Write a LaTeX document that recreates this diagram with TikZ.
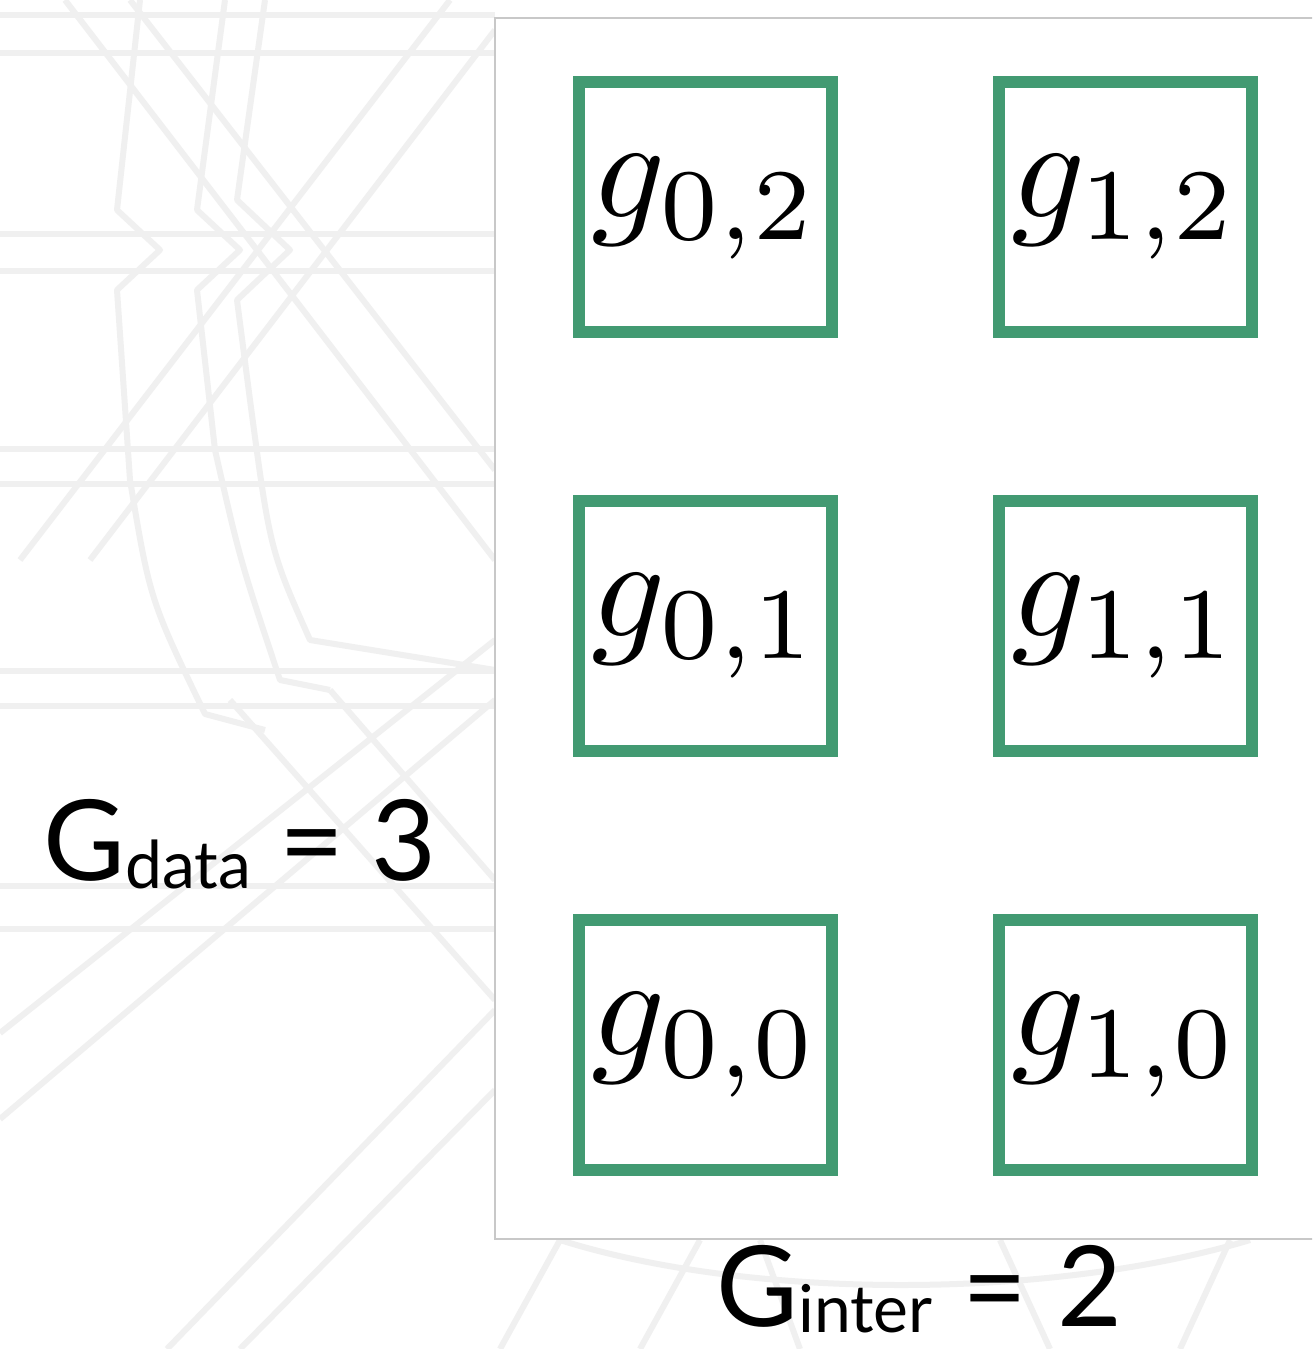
\documentclass[tikz,border=0pt]{standalone}
\usepackage{graphicx}
\usepackage[no-math]{fontspec}
\newfontfamily\labelfont{Lato}
\definecolor{boxgreen}{RGB}{66,154,114}
\definecolor{bgline}{RGB}{240,240,240}
\definecolor{panelline}{RGB}{200,200,200}
\newcommand{\bigmath}[1]{\scalebox{7.25}{$#1$}}
\newcommand{\subtxt}[2][4pt]{\raisebox{-#1}{\fontsize{33}{40}\selectfont #2}}
\tikzset{
  bgstroke/.style={draw=bgline, line width=3pt, line join=round},
  gbox/.style={draw=boxgreen, line width=6pt, minimum width=126.5pt, minimum height=125pt, inner sep=0pt, fill=white},
  panelbox/.style={draw=panelline, line width=1pt, fill=white},
  biglabel/.style={anchor=base west, inner sep=0pt, font=\labelfont\fontsize{56}{64}\selectfont}
}
\begin{document}
\begin{tikzpicture}[x=0.5pt, y=-0.5pt]
\useasboundingbox (0,0) rectangle (1312,1349);
\clip (0,0) rectangle (1312,1349);
\fill[white] (0,0) rectangle (1312,1349);
% faint background pattern
\foreach \yy in {15,53,234,271,449,484,671,706,886,929} {
  \draw[bgstroke] (0,\yy) -- (495,\yy);
}
\draw[bgstroke] (65,0) -- (495,560);
\draw[bgstroke] (130,0) -- (495,470);
\draw[bgstroke] (20,560) -- (450,0);
\draw[bgstroke] (90,560) -- (495,30);
\draw[bgstroke] (0,1033) -- (495,640);
\draw[bgstroke] (0,1119) -- (495,700);
\draw[bgstroke] (167,1349) -- (495,1010);
\draw[bgstroke] (240,1349) -- (495,1090);
\draw[bgstroke] (230,700) -- (495,1000);
\draw[bgstroke] (330,690) -- (495,880);
\draw[bgstroke] (140,0) -- (117,210) -- (160,250) -- (117,290) -- (130,480) .. controls (150,600) .. (205,714) -- (265,730);
\draw[bgstroke] (225,0) -- (197,210) -- (240,250) -- (197,290) -- (215,450) .. controls (240,560) .. (280,680) -- (330,690);
\draw[bgstroke] (265,0) -- (237,200) -- (290,250) -- (237,300) -- (250,400) .. controls (270,550) .. (310,640) -- (495,670);
\draw[bgstroke] (500,1349) -- (560,1240);
\draw[bgstroke] (640,1349) -- (700,1240);
\draw[bgstroke] (760,1240) -- (800,1349);
\draw[bgstroke] (1000,1240) -- (1050,1349);
\draw[bgstroke] (1180,1349) -- (1230,1240);
\draw[bgstroke] (560,1240) .. controls (750,1300) and (1050,1300) .. (1250,1240);
% panel
\draw[panelbox] (495,18) rectangle (1340,1239);
% boxes
\node[gbox] (b02) at (705,207) {\bigmath{g_{0,2}}};
\node[gbox] (b12) at (1125,207) {\bigmath{g_{1,2}}};
\node[gbox] (b01) at (705,626) {\bigmath{g_{0,1}}};
\node[gbox] (b11) at (1125,626) {\bigmath{g_{1,1}}};
\node[gbox] (b00) at (705,1045) {\bigmath{g_{0,0}}};
\node[gbox] (b10) at (1125,1045) {\bigmath{g_{1,0}}};
% labels
\node[biglabel] (gdata) at (43,880) {G\subtxt{data}\hspace{14pt}=\hspace{14pt}3};
\node[biglabel] (ginter) at (716,1326) {G\subtxt[3pt]{inter}\hspace{15pt}=\hspace{15pt}2};
\end{tikzpicture}
\end{document}
